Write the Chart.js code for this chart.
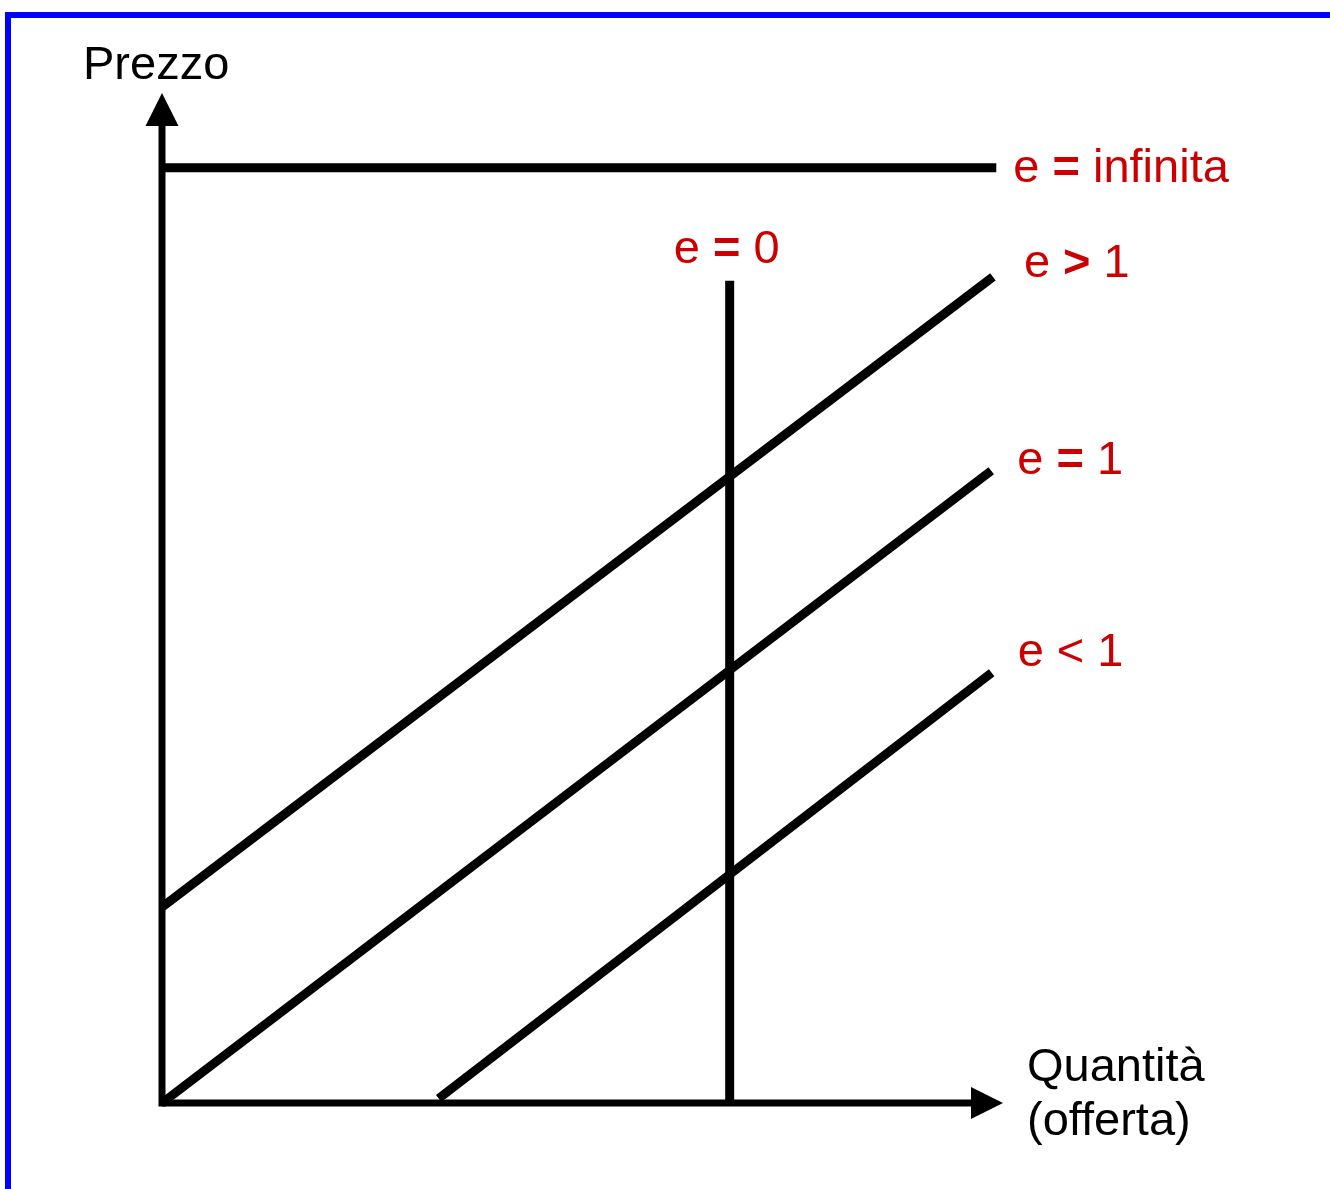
<!DOCTYPE html>
<html>
<head>
<meta charset="utf-8">
<script src="https://cdn.jsdelivr.net/npm/chart.js@4.4.1/dist/chart.umd.min.js"></script>
<style>
    html, body { margin: 0; padding: 0; background: #fff; overflow: hidden; }
    .frame {
        position: absolute; left: 5px; top: 12px; width: 1400px; height: 1300px;
        border-left: 6px solid #0000ff; border-top: 6px solid #0000ff;
    }
    .wrap { position: absolute; left: 0; top: 0; width: 1330px; height: 1189px; }
</style>
</head>
<body>
<div class="frame"></div>
<div class="wrap"><canvas id="chart" width="1330" height="1189"></canvas></div>
<script>
// values, both axes on a 0-100 scale
const seriesNames = ['e = infinita', 'e = 0', 'e > 1', 'e = 1', 'e < 1'];
const infinitaX = [0, 99.2];
const infinitaY = [92.6, 92.6];
const zeroX = [67.5, 67.5];
const zeroY = [0, 81.4];
const overOneX = [0, 98.8];
const overOneY = [19.4, 81.8];
const oneX = [0, 98.6];
const oneY = [0, 62.6];
const underOneX = [32.9, 98.65];
const underOneY = [0.45, 42.6];
const axisRange = [0, 100];
const yTitle = 'Prezzo';
const xTitle = ['Quantità', '(offerta)'];

const FONT = '47px "Liberation Sans", Arial, sans-serif';
const RED = '#cc0000';

const seriesX = [infinitaX, zeroX, overOneX, oneX, underOneX];
const seriesY = [infinitaY, zeroY, overOneY, oneY, underOneY];

// label placement relative to the end of each line (px)
const labelOffsets = [
    { dx: 17, dy: 14, align: 'left' },
    { dx: -3, dy: -18, align: 'center' },
    { dx: 31, dy: 0, align: 'left' },
    { dx: 26, dy: 3, align: 'left' },
    { dx: 26, dy: -7, align: 'left' }
];

function drawLabel(ctx, text, x, y, align) {
    // symbols =, > are set in bold in the original, < is not
    const parts = text.split(' ').map((t, i, arr) => [t + (i < arr.length - 1 ? ' ' : ''), t === '=' || t === '>']);
    const widths = parts.map(p => {
        ctx.font = (p[1] ? 'bold ' : '') + FONT;
        return ctx.measureText(p[0]).width;
    });
    const total = widths.reduce((a, b) => a + b, 0);
    let cx = align === 'center' ? x - total / 2 : x;
    parts.forEach((p, i) => {
        ctx.font = (p[1] ? 'bold ' : '') + FONT;
        ctx.fillText(p[0], cx, y);
        cx += widths[i];
    });
}

const axesPlugin = {
    id: 'axesPlugin',
    afterDatasetsDraw(chart) {
        const ctx = chart.ctx;
        const xs = chart.scales.x;
        const ys = chart.scales.y;
        const x0 = xs.getPixelForValue(axisRange[0]);
        const y0 = ys.getPixelForValue(axisRange[0]);
        const xTip = xs.getPixelForValue(axisRange[1]);
        const yTip = ys.getPixelForValue(axisRange[1]);

        ctx.save();
        ctx.strokeStyle = '#000';
        ctx.fillStyle = '#000';
        ctx.lineWidth = 7;
        ctx.lineCap = 'butt';

        ctx.beginPath();
        ctx.moveTo(x0, y0 + 3.5);
        ctx.lineTo(x0, yTip + 30);
        ctx.stroke();

        ctx.beginPath();
        ctx.moveTo(x0, y0);
        ctx.lineTo(xTip - 30, y0);
        ctx.stroke();

        // arrow heads
        ctx.beginPath();
        ctx.moveTo(x0, yTip);
        ctx.lineTo(x0 + 16.5, yTip + 33);
        ctx.lineTo(x0 - 16.5, yTip + 33);
        ctx.closePath();
        ctx.fill();

        ctx.beginPath();
        ctx.moveTo(xTip, y0);
        ctx.lineTo(xTip - 32, y0 - 16);
        ctx.lineTo(xTip - 32, y0 + 16);
        ctx.closePath();
        ctx.fill();

        // axis titles
        ctx.font = FONT;
        ctx.textBaseline = 'alphabetic';
        ctx.textAlign = 'left';
        ctx.fillText(yTitle, x0 - 79, yTip - 14);
        xTitle.forEach((t, i) => ctx.fillText(t, xTip + 24, y0 - 22 + i * 54));

        // line labels
        ctx.fillStyle = RED;
        chart.data.datasets.forEach((ds, i) => {
            const last = ds.data[ds.data.length - 1];
            const px = xs.getPixelForValue(last.x);
            const py = ys.getPixelForValue(last.y);
            const o = labelOffsets[i];
            drawLabel(ctx, seriesNames[i], px + o.dx, py + o.dy, o.align);
        });
        ctx.restore();
    }
};

const datasets = seriesNames.map((name, i) => ({
    label: name,
    data: seriesX[i].map((x, j) => ({ x, y: seriesY[i][j] })),
    borderColor: '#000',
    borderWidth: 9,
    borderCapStyle: 'butt',
    pointRadius: 0,
    tension: 0,
    fill: false,
    clip: false
}));

new Chart(document.getElementById('chart'), {
    type: 'line',
    data: { datasets },
    options: {
        responsive: false,
        animation: false,
        layout: { padding: { left: 162, right: 327, top: 93, bottom: 86 } },
        plugins: { legend: { display: false }, tooltip: { enabled: false } },
        scales: {
            x: { type: 'linear', min: axisRange[0], max: axisRange[1], display: false },
            y: { type: 'linear', min: axisRange[0], max: axisRange[1], display: false }
        }
    },
    plugins: [axesPlugin]
});
</script>
</body>
</html>
